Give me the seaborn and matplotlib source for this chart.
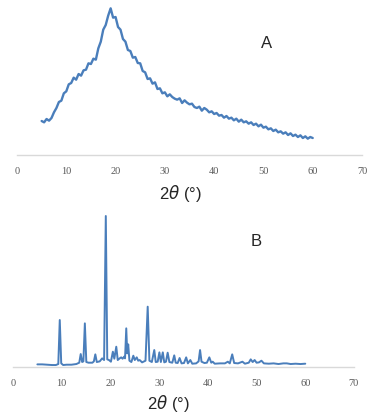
import numpy as np
import seaborn as sns
import matplotlib.pyplot as plt

# XRD patterns: A = amorphous halo, B = crystalline peaks.

# Pattern A, sampled every 0.5 deg from 5 to 60.
tt_a = np.arange(5.0, 60.5, 0.5)
ia = [510, 490, 540, 515, 555, 640, 705, 795, 815, 925,
      955, 1060, 1080, 1160, 1130, 1215, 1190, 1270, 1280, 1375,
      1365, 1445, 1430, 1600, 1700, 1880, 1950, 2090, 2200, 2060,
      2070, 1920, 1880, 1740, 1700, 1575, 1560, 1460, 1470, 1380,
      1375, 1260, 1240, 1140, 1150, 1070, 1090, 990, 1000, 925,
      940, 880, 910, 870, 845, 830, 850, 780, 820, 785,
      760, 770, 720, 705, 725, 665, 705, 680, 640, 655,
      615, 630, 590, 600, 560, 585, 545, 560, 520, 545,
      500, 530, 490, 505, 470, 490, 450, 470, 430, 455,
      410, 425, 385, 400, 360, 380, 340, 355, 320, 340,
      300, 325, 285, 305, 270, 295, 255, 280, 245, 270,
      255]

# Pattern B, points (2theta, intensity).
tt_b = [5.0, 6.0, 7.0, 8.0, 8.8, 9.3, 9.6, 9.9, 10.3, 11.0,
        12.0, 13.0, 13.6, 13.9, 14.2, 14.45, 14.75, 15.05, 15.5, 16.3,
        16.6, 16.9, 17.2, 17.8, 18.3, 18.7, 19.05, 19.35, 19.7, 20.1,
        20.5, 20.8, 21.2, 21.5, 21.9, 22.2, 22.5, 22.8, 23.0, 23.25,
        23.45, 23.65, 23.9, 24.3, 24.7, 25.0, 25.4, 25.7, 26.0, 26.5,
        27.2, 27.65, 28.0, 28.5, 29.0, 29.3, 29.7, 30.05, 30.35, 30.75,
        31.05, 31.4, 31.75, 32.1, 32.7, 33.1, 33.4, 33.8, 34.2, 34.6,
        35.1, 35.55, 35.9, 36.4, 36.8, 37.6, 38.1, 38.4, 38.7, 39.3,
        39.8, 40.3, 40.7, 41.0, 41.4, 42.5, 43.5, 44.1, 44.5, 45.0,
        45.4, 46.2, 47.1, 47.6, 48.4, 48.8, 49.2, 49.6, 50.0, 50.5,
        51.0, 51.5, 52.5, 53.5, 54.5, 55.5, 56.2, 57.0, 58.0, 59.0,
        60.0]
ib = [7, 7, 6, 5, 5, 8, 140, 10, 5, 6,
      6, 8, 12, 38, 14, 16, 130, 14, 12, 12,
      16, 37, 14, 16, 25, 20, 452, 22, 20, 15,
      45, 24, 60, 20, 25, 28, 24, 30, 25, 115,
      40, 67, 18, 14, 33, 20, 28, 18, 20, 13,
      18, 180, 18, 14, 50, 14, 15, 43, 14, 43,
      13, 15, 42, 14, 12, 34, 12, 11, 26, 10,
      11, 28, 10, 20, 9, 10, 16, 50, 15, 11,
      12, 28, 12, 15, 9, 10, 10, 15, 10, 37,
      11, 10, 15, 9, 12, 22, 14, 20, 12, 13,
      18, 10, 9, 10, 8, 10, 10, 8, 9, 8,
      9]

xticks = [0, 10, 20, 30, 40, 50, 60, 70]
line_color = '#4a7ebb'

sns.set_style('white')

W, H = 376, 418
fig = plt.figure(figsize=(W / 100, H / 100), dpi=100)


def px_axes(left, right, top, bottom):
    return fig.add_axes([left / W, 1 - bottom / H, (right - left) / W, (bottom - top) / H])


ax_a = px_axes(17, 362, 0, 155)
ax_b = px_axes(13, 354, 200, 366.7)

sns.lineplot(x=tt_a, y=ia, ax=ax_a, color=line_color, linewidth=1.7)
sns.lineplot(x=tt_b, y=ib, ax=ax_b, color=line_color, linewidth=1.4)

ax_a.set_ylim(0, 2325)
ax_b.set_ylim(0, 500)

for ax in (ax_a, ax_b):
    ax.set_xlim(0, 70)
    ax.set_xticks(xticks)
    ax.set_xticklabels([str(t) for t in xticks], family='Liberation Serif',
                       fontsize=7.5, color='#595959')
    ax.set_yticks([])
    ax.set_xlabel('')
    ax.set_ylabel('')
    ax.tick_params(axis='x', length=0, pad=8.5)
    ax.patch.set_alpha(0)
    for side in ('left', 'right', 'top'):
        ax.spines[side].set_visible(False)
    ax.spines['bottom'].set_color('#d9d9d9')
    ax.spines['bottom'].set_linewidth(1)

# axis titles and panel letters
fig.text(180 / W, 1 - 194 / H, r'2$\theta$ (°)', fontsize=12, family='Liberation Sans',
         ha='center', va='center')
fig.text(168 / W, 1 - 403 / H, r'2$\theta$ (°)', fontsize=12, family='Liberation Sans',
         ha='center', va='center')
fig.text(267 / W, 1 - 43 / H, 'A', fontsize=12, family='Liberation Sans',
         ha='center', va='center')
fig.text(256 / W, 1 - 242 / H, 'B', fontsize=12, family='Liberation Sans',
         ha='center', va='center')

fig.savefig('out.png', dpi=100)
